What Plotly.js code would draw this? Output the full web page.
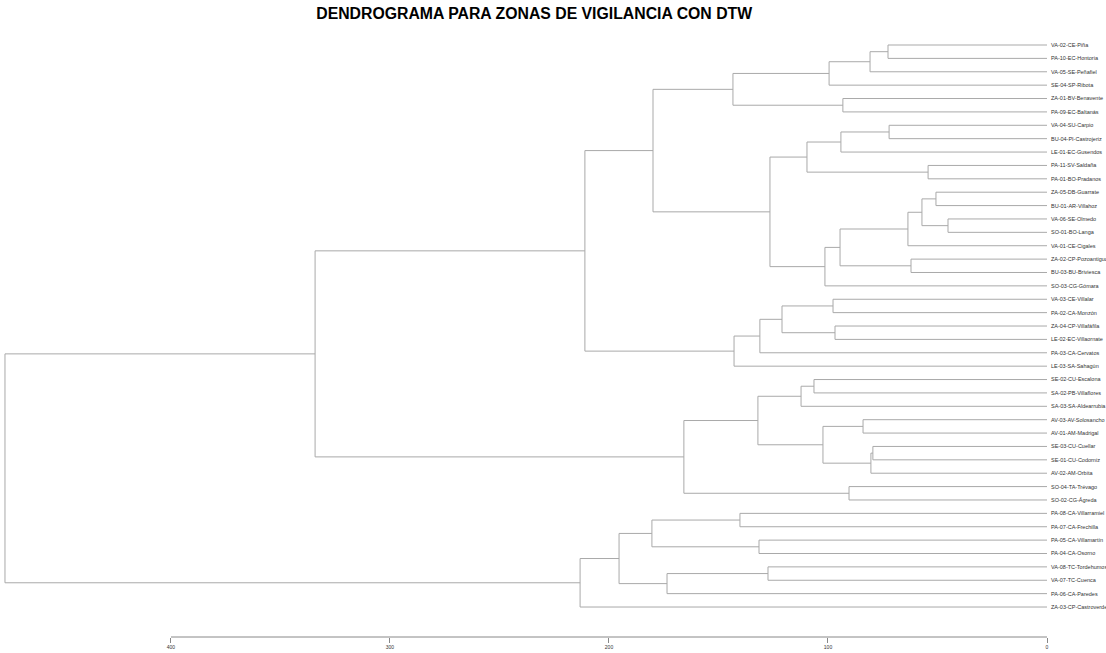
<!DOCTYPE html>
<html>
<head>
<meta charset="utf-8">
<script src="https://cdn.plot.ly/plotly-3.0.1.min.js"></script>
<style>
  html, body { margin: 0; padding: 0; background: #fff; }
  #chart { width: 1106px; height: 653px; }
</style>
</head>
<body>
<div id="chart"></div>
<script>
// Leaf order (top to bottom) of the dendrogram
const leafLabels = [
  "VA-02-CE-Piña", "PA-10-EC-Hontoria", "VA-05-SE-Peñafiel", "SE-04-SP-Ribota",
  "ZA-01-BV-Benavente", "PA-09-EC-Baltanás", "VA-04-SU-Carpio", "BU-04-PI-Castrojeriz",
  "LE-01-EC-Gusendos", "PA-11-SV-Saldaña", "PA-01-BO-Pradanos", "ZA-05-DB-Guarrate",
  "BU-01-AR-Villahoz", "VA-06-SE-Olmedo", "SO-01-BO-Langa", "VA-01-CE-Cigales",
  "ZA-02-CP-Pozoantiguo", "BU-03-BU-Briviesca", "SO-03-CG-Gómara", "VA-03-CE-Villalar",
  "PA-02-CA-Monzón", "ZA-04-CP-Villafáfila", "LE-02-EC-Villaornate", "PA-03-CA-Cervatos",
  "LE-03-SA-Sahagún", "SE-02-CU-Escalona", "SA-02-PB-Villaflores", "SA-03-SA-Aldearrubia",
  "AV-03-AV-Solosancho", "AV-01-AM-Madrigal", "SE-03-CU-Cuellar", "SE-01-CU-Codorniz",
  "AV-02-AM-Orbita", "SO-04-TA-Trévago", "SO-02-CG-Ágreda", "PA-08-CA-Villarramiel",
  "PA-07-CA-Frechilla", "PA-05-CA-Villamartín", "PA-04-CA-Osorno", "VA-08-TC-Tordehumos",
  "VA-07-TC-Cuenca", "PA-06-CA-Paredes", "ZA-03-CP-Castroverde"
];

// Merge steps (hclust convention: negative = leaf number, positive = earlier step)
const mergeLeft = [
  -1, 1, 2, -5, 3, -7, 6, -10, 7, -12, -14, 10, 12, -17, 13, 15, 9, 5,
  -20, -22, 19, 21, 22, 18, -26, 25, -29, -31, 28, 27, 26, -34, 31, 24,
  -36, -38, 35, -40, 38, 37, 40, 34
];
const mergeRight = [
  -2, -3, -4, -6, 4, -8, -9, -11, 8, -13, -15, 11, -16, -18, 14, -19, 16, 17,
  -21, -23, 20, -24, -25, 23, -27, -28, -30, -32, -33, 29, 30, -35, 32, 33,
  -37, -39, 36, -41, -42, 39, -43, 41
];
// DTW distance at which each merge happens
const mergeHeight = [
  72.6, 80.8, 99.5, 93.2, 143.4, 72.1, 94.1, 54.3, 109.6, 50.7, 45.2, 57.1, 63.5, 62.1,
  94.5, 101.4, 126.5, 179.9, 97.7, 96.8, 121.0, 131.1, 142.9, 211.0, 106.4, 112.3, 84.0,
  79.5, 80.4, 102.3, 132.0, 90.4, 165.8, 334.2, 140.2, 131.5, 180.4, 127.4, 173.5, 195.4,
  213.2, 475.8
];

const axisTicks = [0, 100, 200, 300, 400];
const chartTitle = "DENDROGRAMA PARA ZONAS DE VIGILANCIA CON DTW";

// Compute node positions and collect the elbow segments
const leafPos = leafLabels.map((_, i) => i + 1);
const nodeY = [];
const nodeH = [];
function childInfo(id) {
  if (id < 0) return { y: leafPos[-id - 1], h: 0 };
  return { y: nodeY[id - 1], h: nodeH[id - 1] };
}
const segX = [], segY = [];
for (let k = 0; k < mergeHeight.length; k++) {
  const a = childInfo(mergeLeft[k]);
  const b = childInfo(mergeRight[k]);
  const h = mergeHeight[k];
  nodeY.push((a.y + b.y) / 2);
  nodeH.push(h);
  // horizontal from child a, vertical, horizontal to child b
  segX.push(a.h, h, h, b.h, null);
  segY.push(a.y, a.y, b.y, b.y, null);
}

const trace = {
  type: "scatter",
  mode: "lines",
  x: segX,
  y: segY,
  line: { color: "#a9a9a9", width: 1 },
  hoverinfo: "skip",
  showlegend: false
};

const xMax = 476.7;
const layout = {
  width: 1106,
  height: 653,
  paper_bgcolor: "#ffffff",
  plot_bgcolor: "#ffffff",
  margin: { l: 3, r: 59, t: 40, b: 16 },
  title: {
    text: chartTitle,
    font: { family: "Liberation Sans, Arial, sans-serif", size: 15.8, color: "#000", weight: "bold" },
    xref: "container", yref: "container",
    x: 0.483, xanchor: "center",
    y: 1 - 13 / 653, yanchor: "middle"
  },
  xaxis: {
    range: [xMax, 0],
    tickvals: axisTicks,
    ticktext: axisTicks.map(String),
    ticks: "outside",
    ticklen: 5,
    tickwidth: 1,
    tickcolor: "#888",
    showline: false,
    showgrid: false,
    zeroline: false,
    tickfont: { family: "Liberation Sans, Arial, sans-serif", size: 5, color: "#333" },
    fixedrange: true
  },
  yaxis: {
    range: [45.24, 0.626],
    side: "right",
    tickvals: leafPos,
    ticktext: leafLabels,
    ticks: "",
    ticklabelstandoff: 3,
    showline: false,
    showgrid: false,
    zeroline: false,
    tickfont: { family: "Liberation Sans, Arial, sans-serif", size: 5.5, color: "#333" },
    fixedrange: true
  },
  shapes: [{
    type: "line",
    xref: "x", yref: "paper",
    x0: axisTicks[0], x1: axisTicks[axisTicks.length - 1],
    y0: 0, y1: 0,
    line: { color: "#888", width: 1 }
  }]
};

Plotly.newPlot("chart", [trace], layout, { displayModeBar: false, staticPlot: true });
</script>
</body>
</html>
